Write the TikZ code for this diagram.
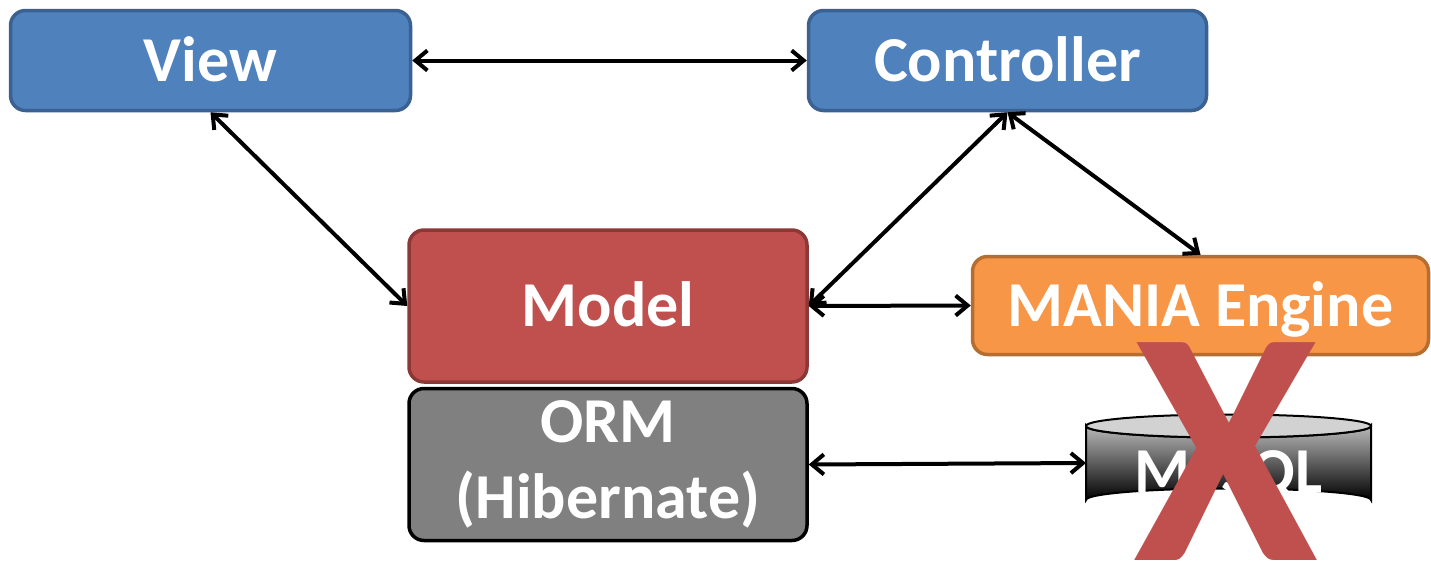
\documentclass[tikz,border=0pt]{standalone}
\usepackage{fontspec}
\setmainfont{Carlito}
\usetikzlibrary{arrows.meta}
\definecolor{vblue}{HTML}{4F81BD}
\definecolor{vblueD}{HTML}{3A6190}
\definecolor{mred}{HTML}{C0504D}
\definecolor{mredD}{HTML}{8C3836}
\definecolor{morange}{HTML}{F79646}
\definecolor{morangeD}{HTML}{B66D31}
\definecolor{ogray}{HTML}{808080}
\tikzset{
  box/.style={rectangle, rounded corners=7.5pt, line width=1.75pt, text=white,
    font=\fontsize{32}{38}\selectfont\bfseries, align=center, inner sep=0pt},
  capc/.style={text height=20.6pt, text depth=0pt},
  conn/.style={line width=2pt, {Straight Barb[length=6pt,width=10pt,line width=2pt]}-{Straight Barb[length=6pt,width=10pt,line width=2pt]}},
}
\begin{document}
\begin{tikzpicture}[x=0.5pt,y=-0.5pt]
\useasboundingbox (0,0) rectangle (1431,562);
% boxes
\node[box, capc, fill=vblue, draw=vblueD, minimum width=200pt, minimum height=50pt] (view) at (210.5,60.5) {View};
\node[box, capc, fill=vblue, draw=vblueD, minimum width=199pt, minimum height=50pt] (ctrl) at (1007.5,60.5) {Controller};
\node[box, capc, fill=mred, draw=mredD, minimum width=199pt, minimum height=76pt] (model) at (608,306) {Model};
\node[box, fill=ogray, draw=black, minimum width=199pt, minimum height=76pt] (orm) at (608,464.5) {ORM\\(Hibernate)};
\node[box, capc, fill=morange, draw=morangeD, minimum width=228pt, minimum height=49pt] (mania) at (1200.5,305.5) {MANIA Engine};
% cylinder
\shade[top color=gray!55, bottom color=black, draw=black, line width=1pt]
  (1086,426) -- (1086,500) arc[start angle=180, end angle=360, x radius=142.5, y radius=11.5]
  -- (1371,426) arc[start angle=0, end angle=180, x radius=142.5, y radius=11.5] -- cycle;
\draw[fill=gray!35, line width=1pt] (1228.5,426) ellipse[x radius=142.5, y radius=11.5];
\node[capc, text=white, font=\fontsize{32}{34}\selectfont\bfseries, inner sep=0pt] (mysql) at (1228.5,472) {MySQL};
\coordinate (dbw) at (1086,463);
% connectors
\draw[conn] (view.east) -- (ctrl.west);
\draw[conn] (view.south) -- (model.west);
\draw[conn] (ctrl.south) -- (model.east);
\draw[conn] (ctrl.south) -- (mania.north);
\draw[conn] (model.east) -- (mania.west);
\draw[conn] (orm.east) -- (dbw);
% cross
\node[text=mred, font=\fontsize{168}{168}\selectfont\bfseries, inner sep=0pt] (cross) at (1226,452) {X};
\end{tikzpicture}
\end{document}
